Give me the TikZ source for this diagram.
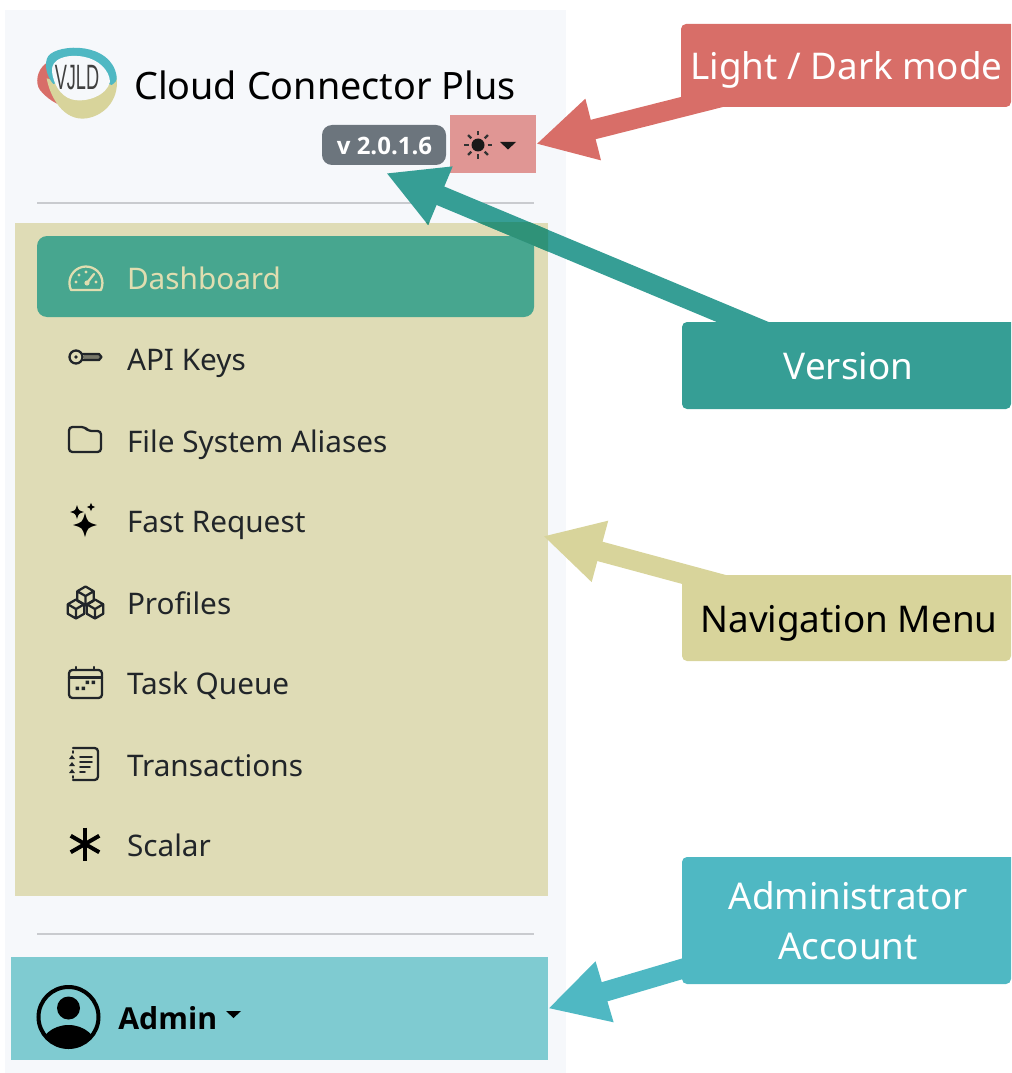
\documentclass[tikz,border=0pt]{standalone}
\usepackage{fontspec}
\setmainfont{Noto Sans}
\newfontfamily\logofont{Liberation Sans}
\newfontfamily\heavyfont{Open Sans}
\usetikzlibrary{arrows.meta}
\definecolor{panelc}{HTML}{F6F8FB}
\definecolor{navc}{HTML}{DFDCB6}
\definecolor{dashc}{HTML}{47A68F}
\definecolor{dashtxt}{HTML}{E0DDB0}
\definecolor{togglec}{HTML}{E09694}
\definecolor{badgec}{HTML}{6C757D}
\definecolor{adminc}{HTML}{7FCBD1}
\definecolor{redc}{HTML}{D86E68}
\definecolor{tealc}{HTML}{369E95}
\definecolor{overlapc}{HTML}{2F9278}
\definecolor{yellowc}{HTML}{D8D49B}
\definecolor{cyanc}{HTML}{4FB8C3}
\definecolor{sepc}{HTML}{C9CBCF}
\definecolor{inkc}{HTML}{212529}
\newcommand\pxsize[1]{\fontsize{#1}{#1}\selectfont}
\newcommand\sparkle[3]{\fill[black] (#1,#2-#3) .. controls (#1+.22*#3,#2-.22*#3) .. (#1+#3,#2) .. controls (#1+.22*#3,#2+.22*#3) .. (#1,#2+#3) .. controls (#1-.22*#3,#2+.22*#3) .. (#1-#3,#2) .. controls (#1-.22*#3,#2-.22*#3) .. cycle;}
\newcommand\hexcube[3]{\draw[icon] (#1,#2-#3) -- (#1+.866*#3,#2-.5*#3) -- (#1+.866*#3,#2+.5*#3) -- (#1,#2+#3) -- (#1-.866*#3,#2+.5*#3) -- (#1-.866*#3,#2-.5*#3) -- cycle (#1,#2) -- (#1,#2+#3) (#1,#2) -- (#1+.866*#3,#2-.5*#3) (#1,#2) -- (#1-.866*#3,#2-.5*#3);}
\tikzset{
  box/.style={rectangle,inner sep=0pt,outer sep=0pt,minimum width=#1},
  navlabel/.style={anchor=base west,inner sep=0pt,outer sep=0pt,text=inkc,font=\pxsize{22.3pt}},
  calltext/.style={rectangle,inner sep=0pt,outer sep=0pt,minimum width=246.75pt,align=center,font=\pxsize{24pt}},
  icon/.style={draw=inkc,line width=1.7pt,line join=round,line cap=round},
  callarrow/.style={line width=15pt,line cap=butt,shorten <=-30pt,-{Triangle[length=44.25pt,width=44.25pt]}},
  sep/.style={draw=sepc,line width=1.1pt},
  calllabel/.style={anchor=base,inner sep=0pt,font=\pxsize{27.6pt}},
}
\begin{document}
\begin{tikzpicture}[x=0.75pt,y=-0.75pt]
\useasboundingbox (0,0) rectangle (1011,1073);
% panels
\node[box=420.75pt,minimum height=797.25pt,fill=panelc] (panel) at (285.5,541.5) {};
\node[box=399.75pt,minimum height=504.75pt,fill=navc] (navrect) at (281.5,559.5) {};
\node[box=372.75pt,minimum height=60.75pt,fill=dashc,rounded corners=7.5pt] (dashrect) at (285.5,276.5) {};
\node[box=402.75pt,minimum height=77.25pt,fill=adminc] (adminrect) at (279.5,1008.5) {};
\node[box=64.5pt,minimum height=43.5pt,fill=togglec] (toggle) at (493,144) {};
\node[box=93pt,minimum height=30pt,fill=badgec,rounded corners=7.5pt] (badge) at (384,145) {};
\coordinate (sepAl) at (37,203); \coordinate (sepAr) at (534,203);
\coordinate (sepBl) at (37,934); \coordinate (sepBr) at (534,934);
\draw[sep] (sepAl) -- (sepAr);
\draw[sep] (sepBl) -- (sepBr);
% callout backgrounds
\fill[redc,rounded corners=3.75pt] (1011,24) -- (681,24) -- (681,107) -- (1011,107) [sharp corners] -- cycle;
\fill[tealc,rounded corners=3.75pt] (1011,322) -- (682,322) -- (682,409) -- (1011,409) [sharp corners] -- cycle;
\fill[yellowc,rounded corners=3.75pt] (1011,575) -- (682,575) -- (682,661) -- (1011,661) [sharp corners] -- cycle;
\fill[cyanc,rounded corners=3.75pt] (1011,857) -- (682,857) -- (682,984) -- (1011,984) [sharp corners] -- cycle;
% logo
\begin{scope}[shift={(30,40)},x=0.25pt,y=-0.25pt]
\fill[redc] (48,70) .. controls (20,90) and (15,130) .. (30,150) .. controls (50,175) and (80,195) .. (112,202) -- (80,130) -- cycle;
\fill[yellowc] (50,115) .. controls (60,170) and (100,245) .. (170,235) .. controls (230,225) and (272,170) .. (258,105) -- (200,120) -- (100,130) -- cycle;
\fill[cyanc] (70,132) .. controls (50,110) and (40,70) .. (55,48) .. controls (85,10) and (245,5) .. (260,110) .. controls (262,122) and (255,128) .. (245,135) -- (160,100) -- cycle;
\fill[panelc] (66,95) .. controls (62,55) and (110,42) .. (160,50) .. controls (205,58) and (238,90) .. (240,125) .. controls (232,165) and (170,190) .. (125,178) .. controls (90,168) and (70,130) .. (66,95) -- cycle;
\node[inner sep=0pt,text=black!75] (logotext) at (141,112) {\logofont\pxsize{22pt}\scalebox{0.62}[1.2]{VJLD}};
\end{scope}
% header text
\node[anchor=base west,inner sep=0pt,text=black,font=\pxsize{28.3pt}] (title) at (134,100) {Cloud Connector Plus};
\node[anchor=base,inner sep=0pt,text=white,font=\heavyfont\bfseries\pxsize{18pt}] (version) at (384.5,155) {v 2.0.1.6};
% sun and caret
\fill[black!90] (478,145) circle[radius=6.5];
\foreach \a in {0,45,...,315}{\draw[black!80,line width=1.8pt] ({478+9.5*cos(\a)},{145+9.5*sin(\a)}) -- ({478+14*cos(\a)},{145+14*sin(\a)});}
\fill[black!90] (500,142) -- (516,142) -- (508,149.5) -- cycle;
% menu labels
\node[navlabel,text=dashtxt] (m1) at (127,289) {Dashboard};
\node[navlabel] (m2) at (127,370) {API Keys};
\node[navlabel] (m3) at (127,452) {File System Aliases};
\node[navlabel] (m4) at (127,532.5) {Fast Request};
\node[navlabel] (m5) at (127,614) {Profiles};
\node[navlabel] (m6) at (127,694) {Task Queue};
\node[navlabel] (m7) at (127,776) {Transactions};
\node[navlabel] (m8) at (127,856.5) {Scalar};
% gauge
\begin{scope}[line cap=round,line join=round]
\draw[dashtxt,line width=1.7pt] (71,290) arc[start angle=155,end angle=385,radius=16.5] -- cycle;
\draw[dashtxt,line width=1.7pt] (87,283) -- (94,274);
\fill[dashtxt] (87,283) circle[radius=2.6] (76,282) circle[radius=1.6] (79,275) circle[radius=1.6] (86,272) circle[radius=1.6] (96,282) circle[radius=1.6];
\end{scope}
% key
\fill[inkc!55!navc] (84,354) rectangle (100,360);
\draw[icon] (76,357) circle[radius=6.5];
\fill[inkc] (76,357) circle[radius=1.8];
\draw[icon] (82.5,354) -- (99,354) -- (101.5,357) -- (99,360) -- (91,360) -- (82.5,360);
% folder
\draw[icon,rounded corners=2.5pt] (69,452) -- (69,427) -- (85,427) -- (88,431) -- (101,431) -- (101,452) -- cycle;
% sparkles
\sparkle{85}{525}{12}
\sparkle{77}{512}{7}
\sparkle{91}{507}{4.2}
% cubes
\hexcube{85.5}{596}{9.5}
\hexcube{76}{609}{9.5}
\hexcube{95}{609}{9.5}
% calendar
\draw[icon,rounded corners=2.5pt] (69,670) rectangle (102,698);
\draw[icon] (69,677.5) -- (102,677.5) (76,667) -- (76,670) (94,667) -- (94,670);
\fill[inkc] (75.5,686.5) rectangle (79,690) (81.5,686.5) rectangle (85,690) (85.5,680.5) rectangle (89,684) (91.5,680.5) rectangle (95,684);
% journal
\draw[icon,rounded corners=2.5pt] (73,748) -- (98,748) -- (98,780) -- (73,780);
\draw[icon,line width=1.4pt] (80,757) -- (92,757) (80,762) -- (92,762) (80,767) -- (90,767) (80,772) -- (85,772);
\fill[inkc] (69,759) -- (75,759) -- (72,755) -- cycle (69,766) -- (75,766) -- (72,762) -- cycle (69,773) -- (75,773) -- (72,769) -- cycle;
\draw[icon,line width=1.4pt] (73,751) -- (73,753) (73,776) -- (73,778);
% asterisk
\foreach \a in {30,90,150}{\draw[black,line width=3pt] ({85-16.5*cos(\a)},{844-16.5*sin(\a)}) -- ({85+16.5*cos(\a)},{844+16.5*sin(\a)});}
% admin
\begin{scope}
\clip (68.5,1017) circle[radius=30];
\fill[black] (68.5,1050) ellipse[x radius=29,y radius=25];
\end{scope}
\fill[black] (68.5,1008) circle[radius=11.5];
\draw[black,line width=3pt] (68.5,1017) circle[radius=30];
\node[anchor=base west,inner sep=0pt,text=black,font=\heavyfont\bfseries\pxsize{22.7pt}] (admin) at (118,1029) {Admin};
\fill[black] (226,1011) -- (241,1011) -- (233.5,1018) -- cycle;
% callout nodes
\node[calltext,minimum height=62.25pt] (lightbox) at (846,65.5) {};
\node[calltext,minimum height=65.25pt] (versionbox) at (846.5,365.5) {};
\node[calltext,minimum height=64.5pt] (navbox) at (846.5,618) {};
\node[calltext,minimum height=95.25pt] (adminbox) at (846.5,920.5) {};
\coordinate (versiontip) at (386,173);
\coordinate (navtip) at (543,536);
% connectors
\draw[callarrow,redc] (lightbox) -- (toggle.east);
\draw[callarrow,tealc] (versionbox) -- (versiontip);
\begin{scope}
\clip (navrect.north west) rectangle (navrect.south east);
\draw[callarrow,overlapc] (versionbox) -- (versiontip);
\end{scope}
\draw[callarrow,yellowc] (navbox) -- (navtip);
\draw[callarrow,cyanc] (adminbox) -- (adminrect.east);
% callout text
\node[calllabel,text=white] (lighttext) at (846.5,79.5) {Light / Dark mode};
\node[calllabel,text=white] (versiontext) at (848.5,379.5) {Version};
\node[calllabel,text=black] (navtext) at (849,632.5) {Navigation Menu};
\node[calllabel,text=white] (admintext1) at (848,909) {Administrator};
\node[calllabel,text=white] (admintext2) at (848,959) {Account};
\end{tikzpicture}
\end{document}
